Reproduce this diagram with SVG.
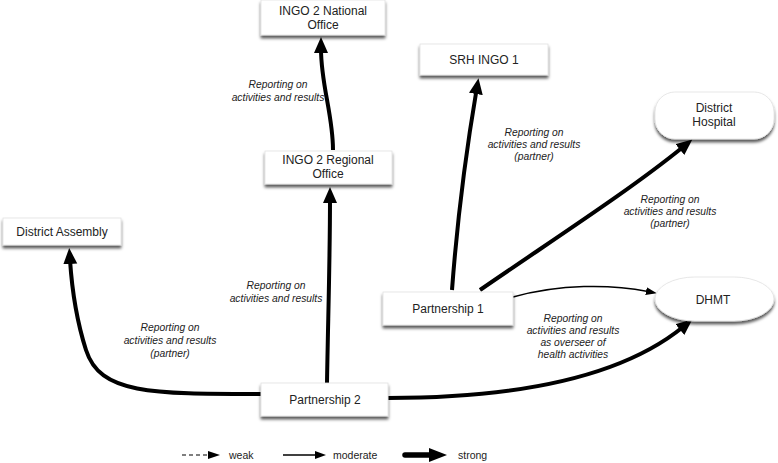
<svg xmlns="http://www.w3.org/2000/svg" width="778" height="463" viewBox="0 0 778 463">
<defs>
<style>
.node{fill:#fff;stroke:#e2e2e2;stroke-width:0.8;filter:url(#sh)}
.nt{font-family:"Liberation Sans",Arial,sans-serif;font-size:12px;fill:#222;text-anchor:middle}
.lb{font-family:"Liberation Sans",Arial,sans-serif;font-size:10.3px;font-style:italic;fill:#222;text-anchor:middle}
.strong{fill:none;stroke:#000;stroke-width:4;marker-end:url(#hs)}
.mod{fill:none;stroke:#000;stroke-width:1.5;marker-end:url(#hm)}
</style>
<filter id="sh" x="-10%" y="-20%" width="120%" height="160%">
<feDropShadow dx="0" dy="3" stdDeviation="1.6" flood-color="#000" flood-opacity="0.65"/>
</filter>
<marker id="hs" markerUnits="userSpaceOnUse" markerWidth="18" markerHeight="16" refX="4" refY="7" orient="auto">
<path d="M0,0 L16,7 L0,14 z" fill="#000"/>
</marker>
<marker id="hm" markerUnits="userSpaceOnUse" markerWidth="12" markerHeight="10" refX="2" refY="4" orient="auto">
<path d="M0,0 L11,4 L0,8 z" fill="#000"/>
</marker>
</defs>
<rect width="778" height="463" fill="#fff"/>

<g id="connectors">
<path class="strong" d="M327,383 C328,320 330,260 330,199"/>
<path class="strong" d="M333,150 C333,115 321,85 321,49"/>
<path class="strong" d="M261,394 C150,394 100,394 86,350 C77,322 72,290 70,260"/>
<path class="strong" d="M388,398 C540,398 630,370 683,327"/>
<path class="strong" d="M452,290 C458,210 468,140 476.5,90"/>
<path class="strong" d="M480,290 C560,235 630,190 683,147"/>
<path class="mod" d="M513,297 C560,284 610,284 648,291.5"/>
</g>

<g id="labels">
<text class="lb" x="278" y="88">Reporting on</text>
<text class="lb" x="278" y="101">activities and results</text>
<text class="lb" x="534" y="136">Reporting on</text>
<text class="lb" x="534" y="148">activities and results</text>
<text class="lb" x="534" y="160">(partner)</text>
<text class="lb" x="670" y="203">Reporting on</text>
<text class="lb" x="670" y="215">activities and results</text>
<text class="lb" x="670" y="227">(partner)</text>
<text class="lb" x="276" y="289">Reporting on</text>
<text class="lb" x="276" y="302">activities and results</text>
<text class="lb" x="170" y="331">Reporting on</text>
<text class="lb" x="170" y="344">activities and results</text>
<text class="lb" x="170" y="357">(partner)</text>
<text class="lb" x="573" y="322">Reporting on</text>
<text class="lb" x="573" y="334">activities and results</text>
<text class="lb" x="573" y="346">as overseer of</text>
<text class="lb" x="573" y="358">health activities</text>
</g>

<g id="ingo2-national">
<rect class="node" x="261" y="0" width="124" height="35"/>
<text class="nt" x="323" y="15">INGO 2 National</text>
<text class="nt" x="323" y="29">Office</text>
</g>
<g id="ingo2-regional">
<rect class="node" x="265" y="151" width="127" height="33"/>
<text class="nt" x="328" y="164">INGO 2 Regional</text>
<text class="nt" x="328" y="178">Office</text>
</g>
<g id="srh-ingo1">
<rect class="node" x="420" y="44" width="128" height="31"/>
<text class="nt" x="484" y="64">SRH INGO 1</text>
</g>
<g id="district-hospital">
<rect class="node" x="655" y="92" width="119" height="47" rx="20" ry="20"/>
<text class="nt" x="714" y="112">District</text>
<text class="nt" x="714" y="126">Hospital</text>
</g>
<g id="district-assembly">
<rect class="node" x="3" y="218" width="118" height="27"/>
<text class="nt" x="62" y="236">District Assembly</text>
</g>
<g id="partnership1">
<rect class="node" x="383" y="292" width="130" height="33"/>
<text class="nt" x="448" y="313">Partnership 1</text>
</g>
<g id="dhmt">
<rect class="node" x="655" y="277" width="119" height="44" rx="40" ry="22"/>
<text class="nt" x="713" y="304">DHMT</text>
</g>
<g id="partnership2">
<rect class="node" x="261" y="383" width="127" height="33"/>
<text class="nt" x="325" y="404">Partnership 2</text>
</g>

<g id="legend">
<path d="M182,455 L210,455" stroke="#000" stroke-width="1.2" stroke-dasharray="4,3" fill="none"/>
<path d="M208,451 L220,455 L208,459 z" fill="#000"/>
<text class="nt" x="229" y="459" style="text-anchor:start;font-size:10.5px">weak</text>
<path d="M283,455 L317,455" stroke="#000" stroke-width="1.5" fill="none"/>
<path d="M315,451 L326,455 L315,459 z" fill="#000"/>
<text class="nt" x="333" y="459" style="text-anchor:start;font-size:10.5px">moderate</text>
<path d="M405,455 L432,455" stroke="#000" stroke-width="5.5" stroke-linecap="round" fill="none"/>
<path d="M429,448 L447,455 L429,462 z" fill="#000"/>
<text class="nt" x="458" y="459" style="text-anchor:start;font-size:10.5px">strong</text>
</g>
</svg>
